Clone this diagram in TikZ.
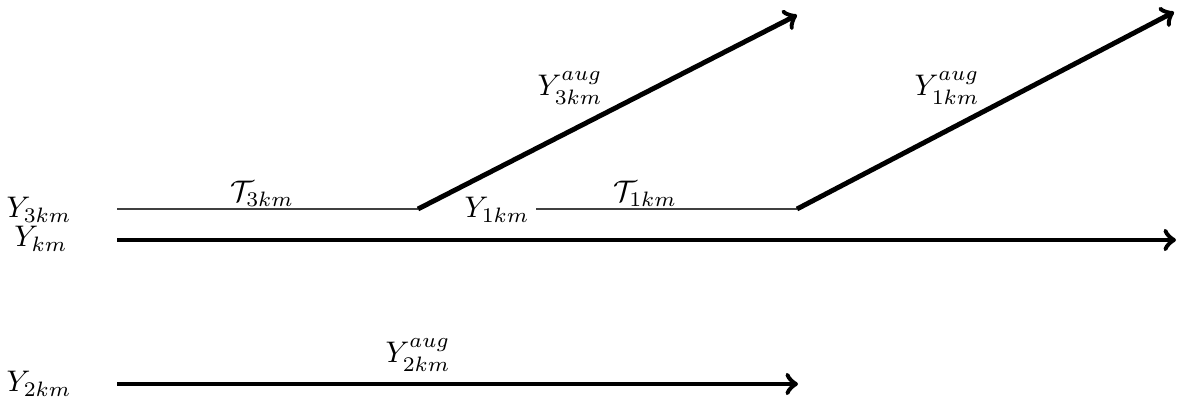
\documentclass[tikz,border=0pt]{standalone}
\begin{document}
\begin{tikzpicture}[x=0.0118cm,y=-0.0118cm,
  thickarr/.style={line width=1.65pt,->},
  thinline/.style={line width=0.5pt,draw=black!75},
  lbl/.style={inner sep=1pt}]
\useasboundingbox (0,0) rectangle (1180,409);
% coordinates
\coordinate (a0) at (117,209);
\coordinate (a1) at (418,209);
\coordinate (a2) at (797,209);
\coordinate (t1) at (797,15);
\coordinate (t2) at (1174,12);
\coordinate (k0) at (117,240);
\coordinate (k1) at (1176,240);
\coordinate (b0) at (117,384);
\coordinate (b1) at (798,384);
% labels
\node[lbl] (y3) at (39,210) {$Y_{3km}$};
\node[lbl] (yk) at (41,239) {$Y_{km}$};
\node[lbl] (y2) at (39,384) {$Y_{2km}$};
\node[lbl,inner sep=0pt,anchor=south] (T3) at (262,207) {$\mathcal{T}_{3km}$};
\node[lbl,inner xsep=2pt] (y1) at (497,210) {$Y_{1km}$};
\node[lbl,inner sep=0pt,anchor=south] (T1) at (645,207) {$\mathcal{T}_{1km}$};
\node[lbl] (ya3) at (570,88) {$Y^{aug}_{3km}$};
\node[lbl] (ya1) at (947,88) {$Y^{aug}_{1km}$};
\node[lbl] (ya2) at (418,355) {$Y^{aug}_{2km}$};
% lines
\draw[thinline] (a0) -- (a1);
\draw[thinline] (y1.east |- a2) -- (a2);
\draw[thickarr] (a1) -- (t1);
\draw[thickarr] (a2) -- (t2);
\draw[thickarr] (k0) -- (k1);
\draw[thickarr] (b0) -- (b1);
\end{tikzpicture}
\end{document}
